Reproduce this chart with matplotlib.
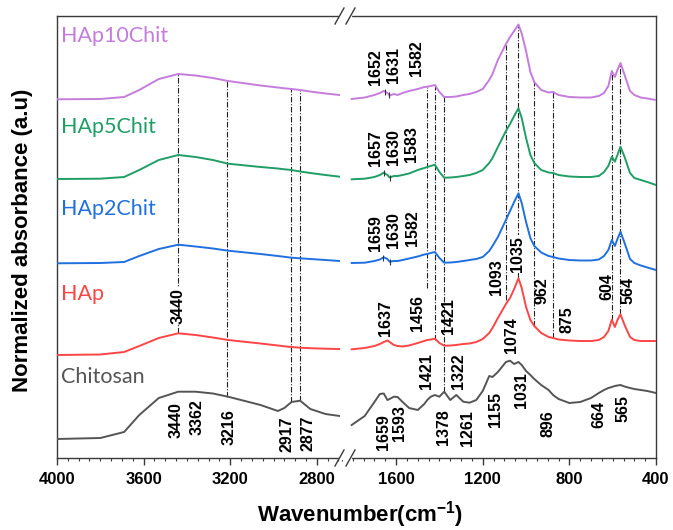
import numpy as np
import matplotlib
matplotlib.use("Agg")
import matplotlib.pyplot as plt
from matplotlib.ticker import MultipleLocator
from matplotlib.lines import Line2D

plt.rcParams['font.family'] = ['Liberation Sans', 'DejaVu Sans']
plt.rcParams['mathtext.fontset'] = 'custom'
plt.rcParams['mathtext.rm'] = 'Liberation Sans:bold'
plt.rcParams['mathtext.bf'] = 'Liberation Sans:bold'

# --- spectra, high wavenumber segment (cm-1) ---
wn_high = [4000, 3800, 3690, 3620, 3530, 3440, 3360, 3280, 3210, 3060,
           2980, 2950, 2917, 2877, 2830, 2760, 2695]
hap10_high = [3.587, 3.59, 3.61, 3.68, 3.79, 3.84, 3.825, 3.80, 3.77, 3.725,
              3.705, 3.697, 3.69, 3.68, 3.665, 3.645, 3.63]
hap5_high = [2.79, 2.793, 2.81, 2.88, 2.98, 3.03, 3.01, 2.98, 2.943, 2.91,
             2.895, 2.887, 2.88, 2.865, 2.85, 2.83, 2.813]
hap2_high = [1.947, 1.95, 1.96, 2.02, 2.09, 2.133, 2.115, 2.095, 2.073, 2.04,
             2.02, 2.012, 2.003, 1.997, 1.99, 1.98, 1.97]
hap_high = [1.03, 1.035, 1.06, 1.12, 1.20, 1.247, 1.23, 1.205, 1.18, 1.145,
            1.125, 1.117, 1.11, 1.103, 1.098, 1.093, 1.09]
chit_high = [0.19, 0.20, 0.26, 0.43, 0.60, 0.663, 0.663, 0.645, 0.613, 0.53,
             0.47, 0.50, 0.56, 0.573, 0.49, 0.44, 0.42]

# --- spectra, fingerprint segment ---
wn_low = [1805, 1745, 1700, 1675, 1657, 1640, 1630, 1610, 1593, 1570,
          1540, 1500, 1470, 1456, 1440, 1421, 1400, 1378, 1350, 1322,
          1290, 1261, 1230, 1200, 1170, 1155, 1130, 1093, 1074, 1055,
          1035, 1020, 1000, 980, 962, 930, 896, 875, 850, 800,
          750, 700, 664, 640, 620, 604, 590, 578, 564, 545,
          520, 500, 470, 440, 400]
hap10_low = [3.59, 3.605, 3.63, 3.65, 3.67, 3.65, 3.625, 3.64, 3.63, 3.65,
             3.67, 3.69, 3.71, 3.713, 3.72, 3.73, 3.66, 3.61, 3.61, 3.615,
             3.63, 3.64, 3.66, 3.69, 3.78, 3.84, 3.98, 4.14, 4.21, 4.27,
             4.335, 4.245, 4.07, 3.86, 3.76, 3.68, 3.655, 3.66, 3.63, 3.61,
             3.605, 3.605, 3.62, 3.65, 3.72, 3.87, 3.81, 3.88, 3.95, 3.83,
             3.67, 3.63, 3.605, 3.595, 3.58]
hap5_low = [2.787, 2.793, 2.81, 2.83, 2.853, 2.83, 2.805, 2.82, 2.82, 2.83,
            2.845, 2.88, 2.90, 2.91, 2.92, 2.933, 2.86, 2.803, 2.805, 2.81,
            2.82, 2.83, 2.85, 2.88, 2.95, 3.00, 3.11, 3.27, 3.34, 3.42,
            3.497, 3.40, 3.20, 3.03, 2.95, 2.88, 2.855, 2.85, 2.83, 2.815,
            2.81, 2.81, 2.82, 2.86, 2.92, 3.013, 2.963, 3.03, 3.113, 3.01,
            2.85, 2.80, 2.78, 2.76, 2.73]
hap2_low = [1.95, 1.953, 1.97, 1.985, 2.007, 1.99, 1.963, 1.97, 1.97, 1.98,
            1.995, 2.015, 2.035, 2.04, 2.05, 2.06, 2.00, 1.953, 1.955, 1.96,
            1.97, 1.98, 1.99, 2.01, 2.07, 2.12, 2.21, 2.38, 2.47, 2.56,
            2.647, 2.55, 2.36, 2.20, 2.12, 2.055, 2.02, 2.01, 1.995, 1.98,
            1.975, 1.975, 1.985, 2.02, 2.08, 2.18, 2.12, 2.19, 2.263, 2.15,
            1.99, 1.95, 1.925, 1.905, 1.88]
hap_low = [1.087, 1.10, 1.12, 1.14, 1.16, 1.175, 1.16, 1.13, 1.12, 1.115,
           1.125, 1.15, 1.17, 1.18, 1.185, 1.193, 1.15, 1.123, 1.125, 1.13,
           1.14, 1.145, 1.16, 1.19, 1.25, 1.30, 1.40, 1.54, 1.60, 1.69,
           1.797, 1.70, 1.51, 1.38, 1.32, 1.25, 1.21, 1.20, 1.185, 1.175,
           1.17, 1.17, 1.18, 1.21, 1.27, 1.383, 1.31, 1.38, 1.437, 1.33,
           1.21, 1.18, 1.17, 1.17, 1.17]
chit_low = [0.33, 0.42, 0.56, 0.64, 0.645, 0.58, 0.59, 0.613, 0.61, 0.56,
            0.50, 0.48, 0.54, 0.58, 0.613, 0.63, 0.613, 0.663, 0.58, 0.63,
            0.563, 0.553, 0.58, 0.67, 0.82, 0.81, 0.86, 0.96, 0.973, 0.94,
            0.96, 0.93, 0.87, 0.83, 0.79, 0.73, 0.68, 0.63, 0.59, 0.55,
            0.56, 0.60, 0.65, 0.68, 0.70, 0.71, 0.72, 0.725, 0.73, 0.715,
            0.70, 0.69, 0.68, 0.67, 0.65]

names = ['HAp10Chit', 'HAp5Chit', 'HAp2Chit', 'HAp', 'Chitosan']
colors = ['#c47ddc', '#1f9e66', '#2070e0', '#ff4545', '#555555']
highs = [hap10_high, hap5_high, hap2_high, hap_high, chit_high]
lows = [hap10_low, hap5_low, hap2_low, hap_low, chit_low]
name_y = [4.215, 3.31, 2.49, 1.635, 0.81]

# dash-dot guide lines: (wavenumber, top, bottom)
guides_high = [(3440, 3.84, 1.247), (3216, 3.77, 0.613),
               (2917, 3.69, 0.56), (2877, 3.68, 0.573)]
guides_low = [(1456, 3.713, 1.70), (1421, 3.73, 1.18), (1378, 3.61, 0.663),
              (1093, 4.13, 1.58), (1035, 4.335, 1.80), (962, 3.76, 1.32),
              (875, 3.66, 1.20), (604, 3.87, 1.38), (564, 3.95, 1.44)]

# peak labels: (text, x position, y position, white background)
labels_high = [('3440', 3440, 1.52, True), ('3440', 3450, 0.38, False),
               ('3362', 3355, 0.41, False), ('3216', 3205, 0.31, False),
               ('2917', 2937, 0.24, False), ('2877', 2840, 0.245, False)]
labels_low = [('1652', 1694, 3.905, False), ('1631', 1612, 3.93, False),
              ('1582', 1508, 3.995, False),
              ('1657', 1694, 3.10, False), ('1630', 1613, 3.11, False),
              ('1583', 1528, 3.14, False),
              ('1659', 1694, 2.25, False), ('1630', 1610, 2.28, False),
              ('1582', 1525, 2.30, False),
              ('1093', 1135, 1.805, False), ('1035', 1038, 2.04, True),
              ('962', 925, 1.67, False), ('875', 810, 1.38, False),
              ('604', 625, 1.71, False), ('564', 531, 1.68, False),
              ('1637', 1651, 1.40, False), ('1456', 1502, 1.45, False),
              ('1421', 1359, 1.42, False),
              ('1421', 1459, 0.87, False), ('1322', 1313, 0.87, False),
              ('1074', 1066, 1.23, False), ('1155', 1143, 0.49, False),
              ('1031', 1023, 0.68, False), ('1659', 1659, 0.26, False),
              ('1593', 1582, 0.35, False), ('1378', 1382, 0.31, False),
              ('1261', 1271, 0.30, False), ('896', 897, 0.34, False),
              ('664', 662, 0.43, False), ('565', 551, 0.49, False)]

# small marks on the composite curves
marks = [(0, [1652, 1631]), (1, [1657, 1630]), (2, [1659, 1630])]

W, H = 673, 530
fig = plt.figure(figsize=(W / 100, H / 100), dpi=100)
axL = fig.add_axes([57 / W, 72 / H, 283 / W, 442 / H])
axR = fig.add_axes([340 / W, 72 / H, 316 / W, 442 / H])

spine_col = '#3a3a3a'
for ax in (axL, axR):
    ax.set_ylim(0, 4.42)
    ax.set_yticks([])
    for s in ax.spines.values():
        s.set_color(spine_col)
        s.set_linewidth(1.0)
    ax.xaxis.set_minor_locator(MultipleLocator(50))
    ax.tick_params(axis='x', which='major', direction='out', length=5,
                   width=1, color=spine_col, labelsize=12, pad=5)
    ax.tick_params(axis='x', which='minor', direction='out', length=2.5,
                   width=0.8, color=spine_col)
axL.spines['right'].set_visible(False)
axR.spines['left'].set_visible(False)

axL.set_xlim(4000, 2693)
axL.set_xticks([4000, 3600, 3200, 2800])
axR.set_xlim(1859, 400)
axR.set_xticks([1600, 1200, 800, 400])
for ax in (axL, axR):
    for t in ax.get_xticklabels():
        t.set_fontweight('bold')

dd = (0, (5, 1.5, 1, 1.5))
for w, top, bot in guides_high:
    axL.plot([w, w], [bot, top], color='#222222', lw=0.8, ls=dd, zorder=1)
for w, top, bot in guides_low:
    axR.plot([w, w], [bot, top], color='#222222', lw=0.8, ls=dd, zorder=1)

for name, c, hi, lo, ny in zip(names, colors, highs, lows, name_y):
    axL.plot(wn_high, hi, color=c, lw=1.4, zorder=3)
    axR.plot(wn_low, lo, color=c, lw=1.4, zorder=3)
    axL.text(3982, ny, name, color=c, fontsize=15.5, family='Lato',
             ha='left', va='center')

for idx, ws in marks:
    ys = np.interp(ws, wn_low[::-1], lows[idx][::-1])
    axR.plot(ws, ys, ls='none', marker='|', ms=5, mew=0.8, color='#333333',
             zorder=4)

for txt, x, y, bg in labels_high:
    axL.text(x, y, txt, rotation=90, ha='center', va='center',
             fontsize=11.5, fontweight='bold', zorder=5,
             bbox=dict(fc='white', ec='none', pad=0.5) if bg else None)
for txt, x, y, bg in labels_low:
    axR.text(x, y, txt, rotation=90, ha='center', va='center',
             fontsize=11.5, fontweight='bold', zorder=5,
             bbox=dict(fc='white', ec='none', pad=0.5) if bg else None)

# axis break marks
def fx(px):
    return px / W

def fy(py):
    return 1 - py / H

for py in (16, 458):
    fig.add_artist(Line2D([fx(341), fx(350)], [fy(py), fy(py)],
                          color='white', lw=3, transform=fig.transFigure))
    for x0 in (335, 346):
        fig.add_artist(Line2D([fx(x0), fx(x0 + 9)], [fy(py + 8), fy(py - 8)],
                              color=spine_col, lw=1.0,
                              transform=fig.transFigure))

fig.text(0.034, 0.547, 'Normalized absorbance (a.u)', rotation=90,
         ha='center', va='center', fontsize=16, fontweight='bold')
fig.text(0.535, 0.03, r'Wavenumber(cm$^{\mathbf{-1}}$)', ha='center',
         va='center', fontsize=16, fontweight='bold')

fig.savefig('out.png', dpi=100)
